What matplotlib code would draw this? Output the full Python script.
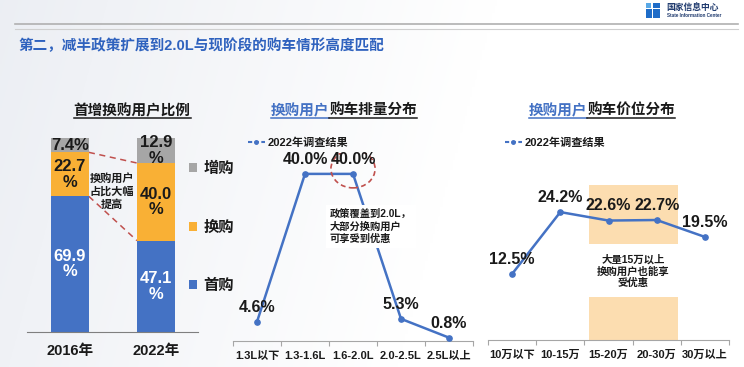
import numpy as np
import matplotlib
matplotlib.use("Agg")
import matplotlib.pyplot as plt
from matplotlib.patches import Rectangle, Ellipse
from matplotlib.lines import Line2D

plt.rcParams['font.family'] = ['Liberation Sans', 'Noto Sans CJK SC']
plt.rcParams['font.weight'] = 'bold'

# ---------------- data ----------------
years = ['2016年', '2022年']
first_buy = [69.9, 47.1]      # 首购
replace_buy = [22.7, 40.0]    # 换购
add_buy = [7.4, 12.9]         # 增购
share_names = ['首购', '换购', '增购']

disp_cats = ['1.3L以下', '1.3-1.6L', '1.6-2.0L', '2.0-2.5L', '2.5L以上']
disp_vals = [4.6, 40.0, 40.0, 5.3, 0.8]

price_cats = ['10万以下', '10-15万', '15-20万', '20-30万', '30万以上']
price_vals = [12.5, 24.2, 22.6, 22.7, 19.5]

series_name = '2022年调查结果'

# ---------------- style ----------------
BLUE = '#4472C4'
ORANGE = '#F9B035'
GRAY = '#A6A6A6'
TITLE_BLUE = '#2F62BE'
RED = '#C0504D'
TXT = '#1A1A1A'
CJK = ['Noto Sans CJK SC']

W, H = 744, 367
fig = plt.figure(figsize=(W / 100, H / 100), dpi=100)


def fx(x):
    return x / W


def fy(y):
    return 1 - y / H


def add_ax(x0, y0, x1, y1):
    return fig.add_axes([x0 / W, 1 - y1 / H, (x1 - x0) / W, (y1 - y0) / H])


# background gradient
bg = fig.add_axes([0, 0, 1, 1], zorder=-10)
bg.axis('off')
xx, yy = np.meshgrid(np.linspace(0, 1, 300), np.linspace(0, 1, 150))
t = np.clip(1 - (xx * 1.5 + yy * 0.2), 0, 1)
c0 = np.array([0.925, 0.935, 0.955])
c1 = np.array([1.0, 1.0, 1.0])
img = c1 + (c0 - c1) * t[..., None]
bg.imshow(img, aspect='auto', extent=[0, 1, 0, 1], origin='upper')
bg.set_xlim(0, 1)
bg.set_ylim(0, 1)

# header lines
fig.add_artist(Line2D([fx(15), fx(738)], [fy(24), fy(24)], color='#B0B0B0', lw=1.2))
fig.add_artist(Line2D([fx(15), fx(738)], [fy(29), fy(29)], color='#CFCFCF', lw=0.8))

# logo
fig.add_artist(Rectangle((fx(646), fy(8)), 5 / W, 5 / H, transform=fig.transFigure,
                         fc='#5AA9E6', ec='none'))
fig.add_artist(Rectangle((fx(653), fy(8)), 7 / W, 5 / H, transform=fig.transFigure,
                         fc='#1E6CC8', ec='none'))
fig.add_artist(Rectangle((fx(646), fy(18)), 14 / W, 9 / H, transform=fig.transFigure,
                         fc='#1E6CC8', ec='none'))
fig.add_artist(Rectangle((fx(651.5), fy(18)), 1.5 / W, 9 / H, transform=fig.transFigure,
                         fc='white', ec='none'))
fig.text(fx(666), fy(7.5), '国家信息中心', fontsize=6.3, color='#1F3A6E', va='center', ha='left',
         family=CJK)
fig.text(fx(667), fy(15.5), 'State Information Center', fontsize=3.3, color='#1F3A6E',
         va='center', ha='left')

# main title
fig.text(fx(18), fy(46), '第二，减半政策扩展到2.0L与现阶段的购车情形高度匹配',
         color=TITLE_BLUE, fontsize=10.5, va='center', ha='left')

renderer = fig.canvas.get_renderer()


def sub_title(cx, cy, blue_part, black_part, size=10.5):
    full = blue_part + black_part
    tf = fig.text(fx(cx), fy(cy), full, fontsize=size, va='center', ha='center', family=CJK)
    bbf = tf.get_window_extent(renderer)
    tf.remove()
    yline = [fy(cy + 8.5)] * 2
    if blue_part:
        tb = fig.text(bbf.x0 / W, fy(cy), blue_part, color=BLUE, fontsize=size,
                      va='center', ha='left', family=CJK)
        tk = fig.text(bbf.x1 / W, fy(cy), black_part, color=TXT, fontsize=size,
                      va='center', ha='right', family=CJK)
        bbk = tk.get_window_extent(renderer)
        fig.add_artist(Line2D([bbf.x0 / W, bbk.x0 / W], yline, color=BLUE, lw=1.1))
        fig.add_artist(Line2D([bbk.x0 / W, bbf.x1 / W], yline, color=TXT, lw=1.1))
    else:
        fig.text(fx(cx), fy(cy), black_part, color=TXT, fontsize=size, va='center',
                 ha='center', family=CJK)
        fig.add_artist(Line2D([bbf.x0 / W, bbf.x1 / W], yline, color=TXT, lw=1.1))


# ---------------- stacked bars ----------------
ax1 = add_ax(27, 138, 198, 332)
x = np.arange(len(years))
w = 0.44
b1 = ax1.bar(x, first_buy, w, color=BLUE, zorder=2)
b2 = ax1.bar(x, replace_buy, w, bottom=first_buy, color=ORANGE, zorder=2)
cum2 = [a + b for a, b in zip(first_buy, replace_buy)]
b3 = ax1.bar(x, add_buy, w, bottom=cum2, color=GRAY, zorder=2)
ax1.set_xlim(-0.5, 1.49)
ax1.set_ylim(0, 100)
ax1.patch.set_alpha(0)
for s in ['top', 'left', 'right']:
    ax1.spines[s].set_visible(False)
ax1.spines['bottom'].set_color('#7F7F7F')
ax1.set_yticks([])
ax1.set_xticks(x)
ax1.set_xticklabels(years, fontsize=10.5, color=TXT)
ax1.tick_params(axis='x', length=0, pad=9)

bottoms = [[0, 0], first_buy, cum2]
for vals, bots, col in zip([first_buy, replace_buy, add_buy], bottoms, ['white', TXT, TXT]):
    for i, (v, b) in enumerate(zip(vals, bots)):
        lab = f'{v:.1f}%' if v < 10 else f'{v:.1f}\n%'
        ax1.text(i, b + v / 2, lab, ha='center', va='center', fontsize=12, color=col,
                 linespacing=1.05, zorder=3)

for cum in [first_buy, cum2]:
    ax1.plot([x[0] + w / 2, x[1] - w / 2], [cum[0], cum[1]], color=RED, lw=1.1,
             ls=(0, (4, 3)), zorder=1)
ax1.text(0.49, 72.5, '换购用户\n占比大幅\n提高', ha='center', va='center', fontsize=8,
         color=TXT, linespacing=1.25, zorder=4)

ax1.legend([b3, b2, b1], ['增购', '换购', '首购'], loc='upper left',
           bbox_to_anchor=(fx(189), fy(162)), bbox_transform=fig.transFigure,
           frameon=False, fontsize=11, handlelength=0.55, handleheight=0.55,
           handletextpad=0.4, labelspacing=2.9, borderpad=0, borderaxespad=0,
           labelcolor=TXT)

sub_title(132, 110, '', '首增换购用户比例')


def line_panel(ax, cats, vals, ymax):
    xs = np.arange(len(cats))
    ax.plot(xs, vals, color=BLUE, lw=1.8, marker='o', ms=3.8, zorder=3)
    for xi, v in zip(xs, vals):
        ax.annotate(f'{v:.1f}%', (xi, v), xytext=(0, 10.5), textcoords='offset points',
                    ha='center', va='center', fontsize=11.5, color=TXT, zorder=6)
    ax.set_xlim(-0.5, len(cats) - 0.5)
    ax.set_ylim(0, ymax)
    ax.patch.set_alpha(0)
    for s in ['top', 'left', 'right']:
        ax.spines[s].set_visible(False)
    ax.spines['bottom'].set_color('#A6A6A6')
    ax.set_yticks([])
    ax.set_xticks(np.arange(-0.5, len(cats), 1))
    ax.set_xticklabels([])
    ax.tick_params(axis='x', which='major', length=3.5, color='#A6A6A6')
    ax.set_xticks(xs, minor=True)
    ax.set_xticklabels(cats, minor=True, fontsize=8, color=TXT)
    ax.tick_params(axis='x', which='minor', length=0, pad=7)
    h = Line2D([], [], color=BLUE, lw=1.5, ls=(0, (2, 1.2)), marker='o', ms=2.5)
    return h


# ---------------- displacement ----------------
ax2 = add_ax(233, 153, 473, 341)
h2 = line_panel(ax2, disp_cats, disp_vals, 45)
ax2.add_patch(Ellipse((2, 41.2), 0.92, 9.1, fill=False, ec=RED, lw=1.2, ls=(0, (3, 2)),
                      zorder=4))
ax2.text(1.52, 27.4, '政策覆盖到2.0L，\n大部分换购用户\n可享受到优惠', ha='left', va='center',
         fontsize=7.4, color=TXT, linespacing=1.3, zorder=5,
         bbox=dict(fc='white', ec='none', pad=3))
ax2.legend([h2], [series_name], loc='center left', bbox_to_anchor=(fx(248), fy(143)),
           bbox_transform=fig.transFigure, frameon=False, fontsize=8, handlelength=1.5,
           handletextpad=0.3, borderpad=0, borderaxespad=0, labelcolor=TXT)
sub_title(344, 110, '换购用户', '购车排量分布')

# ---------------- price ----------------
ax3 = add_ax(488, 155, 729, 340)
ax3.add_patch(Rectangle((1.595, 0), 3.44 - 1.595, 29.3, fc='#FCDDB0', ec='none', zorder=0))
ax3.add_patch(Rectangle((1.595, 8.1), 3.44 - 1.595, 10.0, fc='white', ec='none', zorder=1))
h3 = line_panel(ax3, price_cats, price_vals, 35)
ax3.text(2.52, 13.0, '大量15万以上\n换购用户也能享\n受优惠', ha='center', va='center',
         fontsize=7.5, color=TXT, linespacing=1.2, zorder=5)
ax3.legend([h3], [series_name], loc='center left', bbox_to_anchor=(fx(505), fy(143)),
           bbox_transform=fig.transFigure, frameon=False, fontsize=8, handlelength=1.5,
           handletextpad=0.3, borderpad=0, borderaxespad=0, labelcolor=TXT)
sub_title(602, 110, '换购用户', '购车价位分布')

fig.savefig('out.png', dpi=100)
